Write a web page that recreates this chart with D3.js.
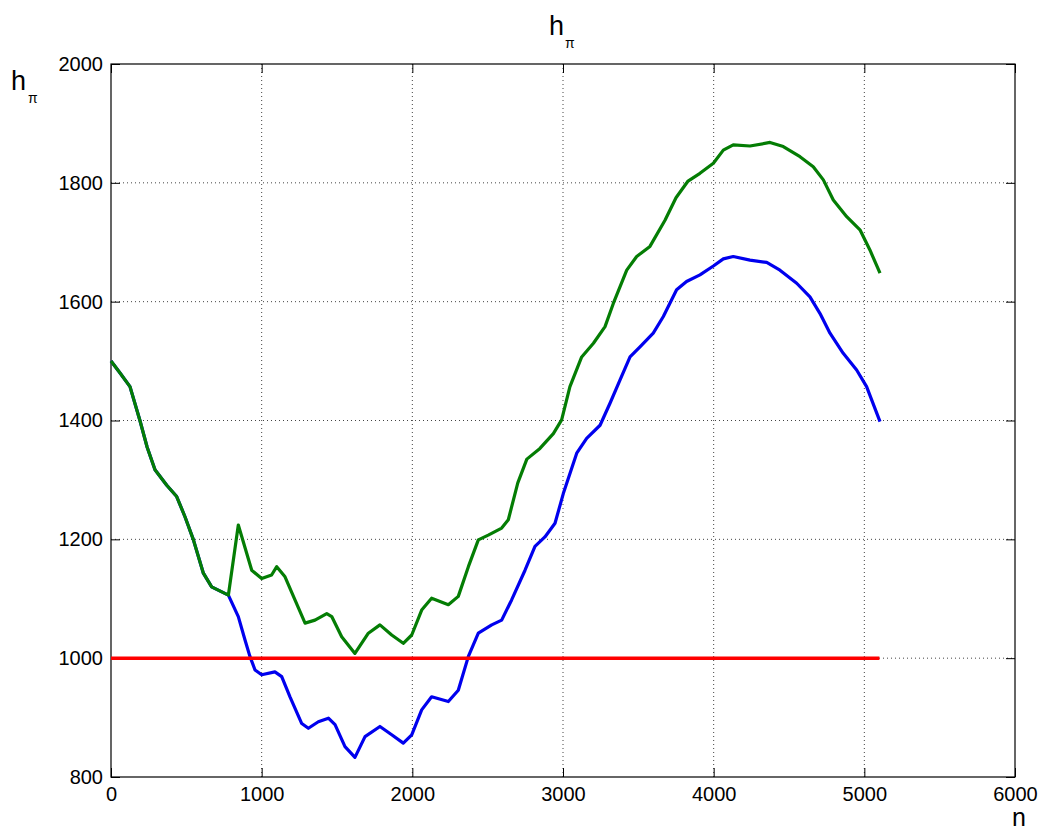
<!DOCTYPE html>
<html>
<head>
<meta charset="utf-8">
<script src="https://cdn.jsdelivr.net/npm/d3@7"></script>
<style>
  html, body { margin: 0; padding: 0; background: #fff; }
  svg { display: block; font-family: "Liberation Sans", Arial, sans-serif; }
</style>
</head>
<body>
<svg id="chart" width="1040" height="832"></svg>
<script>
// Axis ticks
const xTicks = [0, 1000, 2000, 3000, 4000, 5000, 6000];
const yTicks = [800, 1000, 1200, 1400, 1600, 1800, 2000];

// Common start of both trajectories (n, h_pi)
const headPath = [
  [0, 1500], [60, 1480], [126, 1457], [192, 1400], [240, 1355], [292, 1317],
  [370, 1291], [436, 1272], [491, 1238], [546, 1200], [613, 1143], [668, 1120],
  [779, 1106]
];

// Upper (green) branch after the split
const greenTail = [
  [845, 1224], [934, 1148], [1000, 1134], [1066, 1140], [1100, 1154], [1155, 1137],
  [1221, 1098], [1288, 1059], [1354, 1064], [1432, 1075], [1465, 1070], [1531, 1036],
  [1619, 1008], [1708, 1042], [1785, 1056], [1863, 1039], [1940, 1025], [1996, 1039],
  [2062, 1081], [2128, 1101], [2239, 1090], [2305, 1104], [2372, 1154], [2438, 1199],
  [2504, 1207], [2593, 1219], [2637, 1233], [2700, 1295], [2760, 1335], [2847, 1353],
  [2936, 1378], [2991, 1401], [3046, 1457], [3124, 1507], [3202, 1530], [3279, 1558],
  [3334, 1597], [3423, 1653], [3489, 1676], [3577, 1693], [3677, 1737], [3750, 1775],
  [3830, 1803], [3909, 1816], [3998, 1833], [4064, 1855], [4130, 1864], [4241, 1862],
  [4374, 1868], [4462, 1861], [4573, 1844], [4661, 1827], [4728, 1805], [4794, 1771],
  [4883, 1743], [4971, 1721], [5037, 1687], [5104, 1648]
];

// Lower (blue) branch after the split
const blueTail = [
  [845, 1070], [889, 1031], [922, 1003], [956, 980], [1000, 972], [1088, 977],
  [1133, 969], [1188, 935], [1266, 890], [1310, 882], [1376, 893], [1443, 899],
  [1487, 888], [1553, 851], [1619, 833], [1686, 868], [1785, 885], [1863, 871],
  [1940, 857], [1996, 871], [2062, 913], [2128, 935], [2239, 927], [2305, 946],
  [2372, 1003], [2438, 1042], [2527, 1056], [2593, 1064], [2659, 1098], [2748, 1148],
  [2814, 1188], [2880, 1204], [2947, 1227], [3002, 1277], [3091, 1345], [3157, 1370],
  [3246, 1392], [3312, 1429], [3378, 1468], [3445, 1507], [3511, 1524], [3599, 1547],
  [3666, 1575], [3754, 1620], [3820, 1634], [3909, 1645], [3998, 1660], [4064, 1672],
  [4130, 1676], [4241, 1670], [4352, 1666], [4440, 1653], [4551, 1631], [4639, 1608],
  [4706, 1580], [4772, 1547], [4860, 1513], [4949, 1485], [5015, 1457], [5104, 1398]
];

// Reference level
const thresholdN = [0, 5100];
const thresholdValue = 1000;

const greenSeries = headPath.concat(greenTail);
const blueSeries = headPath.concat(blueTail);
const redSeries = thresholdN.map(n => [n, thresholdValue]);

const svg = d3.select("#chart");
const margin = { left: 111, top: 64, right: 25, bottom: 55 };
const W = 1040, H = 832;
const iw = W - margin.left - margin.right;
const ih = H - margin.top - margin.bottom;

const x = d3.scaleLinear().domain([0, 6000]).range([0, iw]);
const y = d3.scaleLinear().domain([800, 2000]).range([ih, 0]);

const g = svg.append("g").attr("transform", `translate(${margin.left},${margin.top})`);

// Dotted grid
g.append("g").selectAll("line").data(xTicks.slice(1, -1)).join("line")
  .attr("x1", d => x(d)).attr("x2", d => x(d))
  .attr("y1", 0).attr("y2", ih)
  .attr("stroke", "#444").attr("stroke-width", 1).attr("stroke-dasharray", "1,3");
g.append("g").selectAll("line").data(yTicks.slice(1, -1)).join("line")
  .attr("y1", d => y(d)).attr("y2", d => y(d))
  .attr("x1", 0).attr("x2", iw)
  .attr("stroke", "#444").attr("stroke-width", 1).attr("stroke-dasharray", "1,3");

// Axes with inward ticks on all four sides
const tl = 9;
const axisStyle = sel => {
  sel.select(".domain").remove();
  sel.selectAll(".tick line").attr("stroke", "#000");
  sel.selectAll(".tick text").attr("font-size", 20).attr("fill", "#000")
    .attr("font-family", "'Liberation Sans', Arial, sans-serif");
};

g.append("g").attr("transform", `translate(0,${ih})`)
  .call(d3.axisBottom(x).tickValues(xTicks).tickFormat(d3.format("d")).tickSizeInner(-tl).tickPadding(10))
  .call(axisStyle);
g.append("g")
  .call(d3.axisLeft(y).tickValues(yTicks).tickFormat(d3.format("d")).tickSizeInner(-tl).tickPadding(8))
  .call(axisStyle);
g.append("g")
  .call(d3.axisTop(x).tickValues(xTicks).tickSizeInner(-tl).tickFormat(""))
  .call(axisStyle);
g.append("g").attr("transform", `translate(${iw},0)`)
  .call(d3.axisRight(y).tickValues(yTicks).tickSizeInner(-tl).tickFormat(""))
  .call(axisStyle);

// Box
g.append("rect").attr("x", 0).attr("y", 0).attr("width", iw).attr("height", ih)
  .attr("fill", "none").attr("stroke", "#000").attr("stroke-width", 1.2);

// Curves
const line = d3.line().x(d => x(d[0])).y(d => y(d[1]));
g.append("path").datum(blueSeries).attr("d", line)
  .attr("fill", "none").attr("stroke", "#0000ee").attr("stroke-width", 3.2)
  .attr("stroke-linejoin", "round");
g.append("path").datum(greenSeries).attr("d", line)
  .attr("fill", "none").attr("stroke", "#047d04").attr("stroke-width", 3.2)
  .attr("stroke-linejoin", "round");
g.append("path").datum(redSeries).attr("d", line)
  .attr("fill", "none").attr("stroke", "#ff0000").attr("stroke-width", 3.5);

// Title
const title = svg.append("text").attr("x", 549).attr("y", 35)
  .attr("font-size", 27).attr("fill", "#000");
title.append("tspan").text("h");
title.append("tspan").attr("font-size", 14).attr("dx", 1).attr("dy", 13).text("π");

// Y label
const ylab = svg.append("text").attr("x", 11).attr("y", 90)
  .attr("font-size", 27).attr("fill", "#000");
ylab.append("tspan").text("h");
ylab.append("tspan").attr("font-size", 14).attr("dx", 2).attr("dy", 13).text("π");

// X label
svg.append("text").attr("x", 1012).attr("y", 826)
  .attr("font-size", 25).attr("fill", "#000").text("n");
</script>
</body>
</html>
